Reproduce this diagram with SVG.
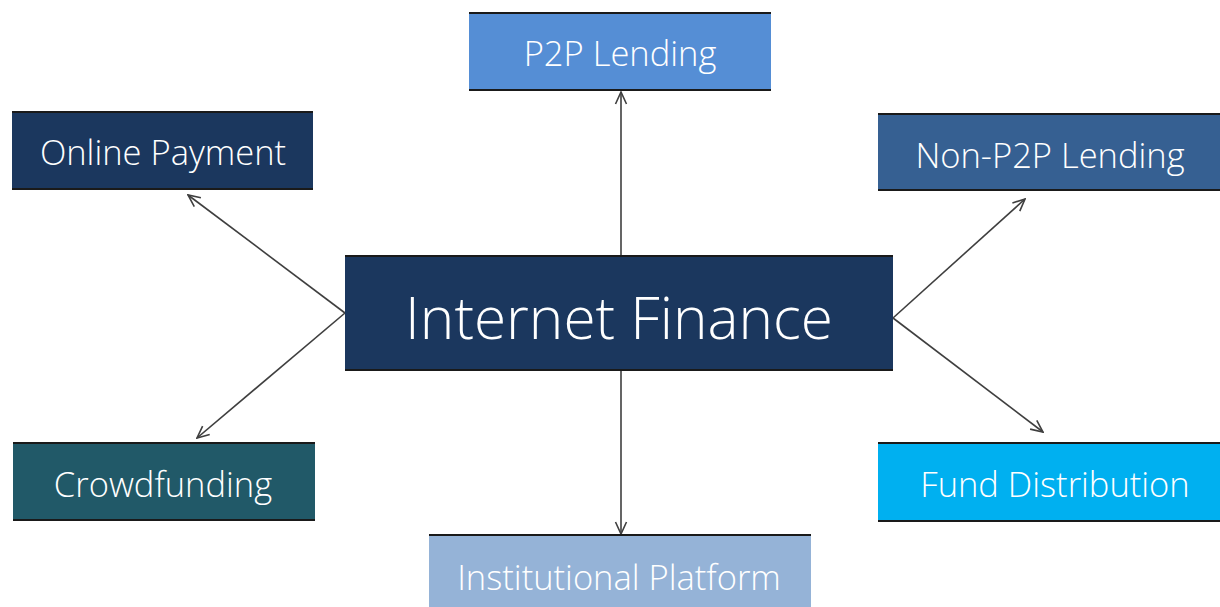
<svg xmlns="http://www.w3.org/2000/svg" width="1220" height="607" viewBox="0 0 1220 607">
<style>
.lbl{font-family:"Open Sans","Noto Sans","Liberation Sans",sans-serif;font-weight:300;fill:#ffffff;text-anchor:middle;font-size:34.5px}
.big{font-size:58.5px}
.edge{stroke:#3f3f3f;stroke-width:1.6;fill:none;marker-end:url(#arr)}
.bd{stroke:#1a1a1a;stroke-width:2}
</style>
<defs>
<marker id="arr" viewBox="0 0 14 14" refX="13" refY="7" markerWidth="14" markerHeight="14" markerUnits="userSpaceOnUse" orient="auto">
<path d="M1,1.5 L13,7 L1,12.5" fill="none" stroke="#3f3f3f" stroke-width="1.6"/>
</marker>
</defs>
<rect width="1220" height="607" fill="#ffffff"/>
<g id="connectors">
<line class="edge" x1="621" y1="256" x2="621" y2="92"/>
<line class="edge" x1="345" y1="313" x2="188" y2="195"/>
<line class="edge" x1="893" y1="318" x2="1025" y2="199"/>
<line class="edge" x1="345" y1="313" x2="197" y2="438"/>
<line class="edge" x1="893" y1="318" x2="1043" y2="432"/>
<line class="edge" x1="621" y1="370" x2="621" y2="534"/>
</g>
<g id="internet-finance">
<rect x="345" y="256" width="548" height="114" fill="#1b375e"/>
<line class="bd" x1="345" y1="256" x2="893" y2="256" stroke-width="1"/>
<line class="bd" x1="345" y1="370" x2="893" y2="370"/>
<text class="lbl big" x="619" y="339">Internet Finance</text>
</g>
<g id="p2p-lending">
<rect x="469" y="12" width="302" height="78" fill="#558ed5"/>
<line class="bd" x1="469" y1="13" x2="771" y2="13"/>
<line class="bd" x1="469" y1="90" x2="771" y2="90"/>
<text class="lbl" x="620" y="66">P2P Lending</text>
</g>
<g id="online-payment">
<rect x="12" y="111" width="301" height="78" fill="#1b375e"/>
<line class="bd" x1="12" y1="112" x2="313" y2="112"/>
<line class="bd" x1="12" y1="189" x2="313" y2="189"/>
<text class="lbl" x="163" y="165">Online Payment</text>
</g>
<g id="non-p2p-lending">
<rect x="878" y="113" width="342" height="77" fill="#366092"/>
<line class="bd" x1="878" y1="114" x2="1220" y2="114"/>
<line class="bd" x1="878" y1="190" x2="1220" y2="190"/>
<text class="lbl" x="1050" y="168">Non-P2P Lending</text>
</g>
<g id="crowdfunding">
<rect x="13" y="442" width="302" height="78" fill="#215968"/>
<line class="bd" x1="13" y1="443" x2="315" y2="443"/>
<line class="bd" x1="13" y1="520" x2="315" y2="520"/>
<text class="lbl" x="163" y="497">Crowdfunding</text>
</g>
<g id="fund-distribution">
<rect x="878" y="442" width="342" height="79" fill="#00b0f0"/>
<line class="bd" x1="878" y1="443" x2="1220" y2="443"/>
<line class="bd" x1="878" y1="521" x2="1220" y2="521"/>
<text class="lbl" x="1055" y="497">Fund Distribution</text>
</g>
<g id="institutional-platform">
<rect x="429" y="535" width="382" height="72" fill="#95b3d7"/>
<line class="bd" x1="429" y1="535" x2="811" y2="535"/>
<text class="lbl" x="619" y="590">Institutional Platform</text>
</g>
</svg>
